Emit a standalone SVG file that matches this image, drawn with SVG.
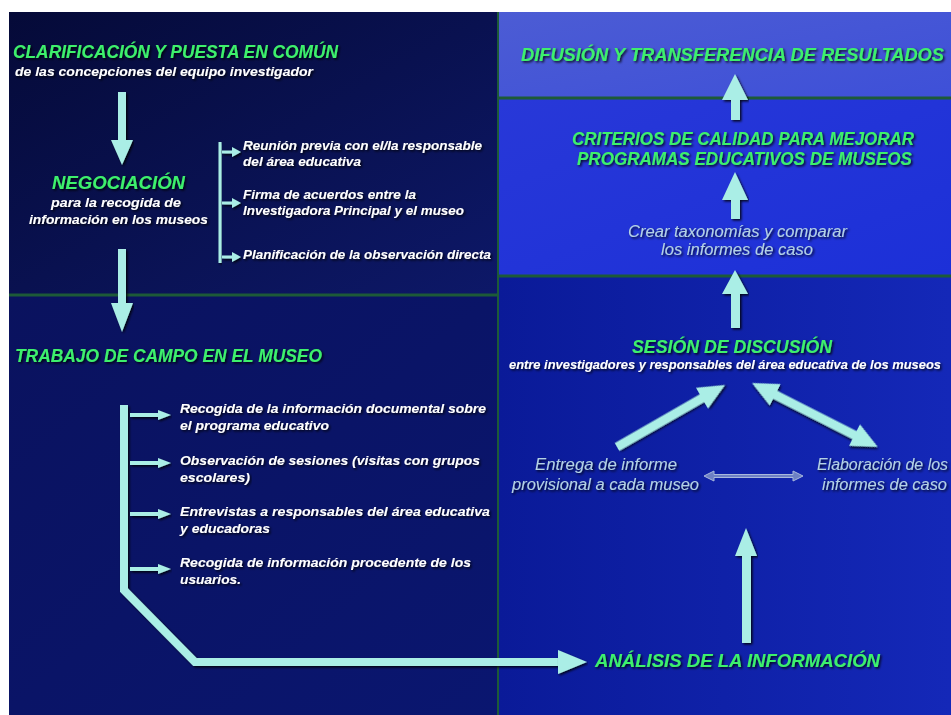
<svg xmlns="http://www.w3.org/2000/svg" width="951" height="715" viewBox="0 0 951 715">
<defs>
<linearGradient id="gLT" x1="0" y1="0" x2="1" y2="1"><stop offset="0" stop-color="#050a38"/><stop offset="1" stop-color="#0d1868"/></linearGradient>
<linearGradient id="gLB" x1="0" y1="0" x2="1" y2="1"><stop offset="0" stop-color="#0a125e"/><stop offset="1" stop-color="#0a1670"/></linearGradient>
<linearGradient id="gRT" x1="0" y1="0" x2="1" y2="1"><stop offset="0" stop-color="#4c5cd4"/><stop offset="1" stop-color="#3e50d8"/></linearGradient>
<linearGradient id="gRM" x1="0" y1="0" x2="1" y2="1"><stop offset="0" stop-color="#2838d8"/><stop offset="1" stop-color="#1c30d8"/></linearGradient>
<linearGradient id="gRB" x1="0" y1="0" x2="1" y2="0"><stop offset="0" stop-color="#0a1a98"/><stop offset="1" stop-color="#1428b8"/></linearGradient>
<filter id="sh" x="-2%" y="-30%" width="104%" height="160%"><feDropShadow dx="1.5" dy="1.5" stdDeviation="1" flood-color="#000" flood-opacity="0.85"/></filter>
</defs>
<style>
.g{font-family:"Liberation Sans",Arial,sans-serif;font-weight:bold;font-style:italic;fill:#3ef06c;filter:url(#sh)}
.w{font-family:"Liberation Sans",Arial,sans-serif;font-weight:bold;font-style:italic;fill:#ffffff;font-size:13.5px;filter:url(#sh)}
.l{font-family:"Liberation Sans",Arial,sans-serif;font-style:italic;fill:#b4d2e4;font-size:16px;filter:url(#sh)}
.a{fill:#aaeee6;filter:url(#sh)}
.sep{stroke:#1d5a38;stroke-width:3}
</style>
<rect width="951" height="715" fill="#ffffff"/>
<g id="panels">
<rect x="9" y="12" width="489" height="283" fill="url(#gLT)"/>
<rect x="9" y="295" width="489" height="420" fill="url(#gLB)"/>
<rect x="498" y="12" width="453" height="86" fill="url(#gRT)"/>
<rect x="498" y="98" width="453" height="178" fill="url(#gRM)"/>
<rect x="498" y="276" width="453" height="439" fill="url(#gRB)"/>
<line class="sep" x1="9" y1="295" x2="498" y2="295"/>
<line class="sep" x1="498" y1="98" x2="951" y2="98"/>
<line class="sep" x1="498" y1="276" x2="951" y2="276"/>
<line x1="498" y1="12" x2="498" y2="715" stroke="#1d5a38" stroke-width="2"/>
</g>
<g id="n-clarificacion">
<text class="g" x="13" y="58" font-size="19" textLength="325" lengthAdjust="spacingAndGlyphs">CLARIFICACIÓN Y PUESTA EN COMÚN</text>
<text class="w" x="15" y="76" font-size="14" textLength="298" lengthAdjust="spacingAndGlyphs">de las concepciones del equipo investigador</text>
</g>
<g id="n-negociacion">
<text class="g" x="118.5" y="189" font-size="19" text-anchor="middle" textLength="133" lengthAdjust="spacingAndGlyphs">NEGOCIACIÓN</text>
<text class="w" x="116" y="207" text-anchor="middle" textLength="130" lengthAdjust="spacingAndGlyphs">para la recogida de</text>
<text class="w" x="118.5" y="224" text-anchor="middle" textLength="179" lengthAdjust="spacingAndGlyphs">información en los museos</text>
</g>
<g id="n-neg-items">
<text class="w" x="243" y="150" textLength="239" lengthAdjust="spacingAndGlyphs">Reunión previa con el/la responsable</text>
<text class="w" x="243" y="166" textLength="118" lengthAdjust="spacingAndGlyphs">del área educativa</text>
<text class="w" x="243" y="199" textLength="173" lengthAdjust="spacingAndGlyphs">Firma de acuerdos entre la</text>
<text class="w" x="243" y="215" textLength="221" lengthAdjust="spacingAndGlyphs">Investigadora Principal y el museo</text>
<text class="w" x="243" y="259" textLength="248" lengthAdjust="spacingAndGlyphs">Planificación de la observación directa</text>
</g>
<g id="n-trabajo">
<text class="g" x="15" y="362" font-size="19" textLength="307" lengthAdjust="spacingAndGlyphs">TRABAJO DE CAMPO EN EL MUSEO</text>
</g>
<g id="n-trabajo-items">
<text class="w" x="180" y="413" textLength="306" lengthAdjust="spacingAndGlyphs">Recogida de la información documental sobre</text>
<text class="w" x="180" y="430" textLength="149" lengthAdjust="spacingAndGlyphs">el programa educativo</text>
<text class="w" x="180" y="465" textLength="300" lengthAdjust="spacingAndGlyphs">Observación de sesiones (visitas con grupos</text>
<text class="w" x="180" y="482" textLength="70" lengthAdjust="spacingAndGlyphs">escolares)</text>
<text class="w" x="180" y="516" textLength="310" lengthAdjust="spacingAndGlyphs">Entrevistas a responsables del área educativa</text>
<text class="w" x="180" y="533" textLength="90" lengthAdjust="spacingAndGlyphs">y educadoras</text>
<text class="w" x="180" y="567" textLength="291" lengthAdjust="spacingAndGlyphs">Recogida de información procedente de los</text>
<text class="w" x="180" y="584" textLength="61" lengthAdjust="spacingAndGlyphs">usuarios.</text>
</g>
<g id="n-analisis">
<text class="g" x="595" y="667" font-size="19" textLength="285" lengthAdjust="spacingAndGlyphs">ANÁLISIS DE LA INFORMACIÓN</text>
</g>
<g id="n-entrega">
<text class="l" x="606" y="470" text-anchor="middle" textLength="142" lengthAdjust="spacingAndGlyphs">Entrega de informe</text>
<text class="l" x="605.5" y="490" text-anchor="middle" textLength="187" lengthAdjust="spacingAndGlyphs">provisional a cada museo</text>
</g>
<g id="n-elaboracion">
<text class="l" x="817" y="470" textLength="131" lengthAdjust="spacingAndGlyphs">Elaboración de los</text>
<text class="l" x="822" y="490" textLength="125" lengthAdjust="spacingAndGlyphs">informes de caso</text>
</g>
<g id="n-sesion">
<text class="g" x="732" y="353" font-size="18" text-anchor="middle" textLength="200" lengthAdjust="spacingAndGlyphs">SESIÓN DE DISCUSIÓN</text>
<text class="w" x="509" y="369" font-size="10.4" textLength="432" lengthAdjust="spacingAndGlyphs">entre investigadores y responsables del área educativa de los museos</text>
</g>
<g id="n-crear">
<text class="l" x="737.5" y="237" text-anchor="middle" textLength="219" lengthAdjust="spacingAndGlyphs">Crear taxonomías y comparar</text>
<text class="l" x="737" y="255" text-anchor="middle" textLength="152" lengthAdjust="spacingAndGlyphs">los informes de caso</text>
</g>
<g id="n-criterios">
<text class="g" x="743" y="145" font-size="18" text-anchor="middle" textLength="342" lengthAdjust="spacingAndGlyphs">CRITERIOS DE CALIDAD PARA MEJORAR</text>
<text class="g" x="744.5" y="165" font-size="18" text-anchor="middle" textLength="335" lengthAdjust="spacingAndGlyphs">PROGRAMAS EDUCATIVOS DE MUSEOS</text>
</g>
<g id="n-difusion">
<text class="g" x="521" y="61" font-size="17.5" textLength="423" lengthAdjust="spacingAndGlyphs">DIFUSIÓN Y TRANSFERENCIA DE RESULTADOS</text>
</g>
<g id="connectors">
<polygon class="a" points="118,92 126,92 126,140 133,140 122,165 111,140 118,140"/>
<polygon class="a" points="118,249 126,249 126,303 133,303 122,332 111,303 118,303"/>
<rect class="a" x="218.5" y="142" width="3" height="121"/>
<polygon class="a" points="222,150.5 232,150.5 232,147 241,152 232,157 232,153.5 222,153.5"/>
<polygon class="a" points="222,201.5 232,201.5 232,198 241,203 232,208 232,204.5 222,204.5"/>
<polygon class="a" points="222,255.5 232,255.5 232,252 241,257 232,262 232,258.5 222,258.5"/>
<path d="M124,405 V590 L195,662 H562" fill="none" stroke="#aaeee6" stroke-width="8" filter="url(#sh)"/>
<polygon class="a" points="558,650 587,662 558,674"/>
<polygon class="a" points="130,413 158,413 158,410 171,415 158,420 158,417 130,417"/>
<polygon class="a" points="130,461 158,461 158,458 171,463 158,468 158,465 130,465"/>
<polygon class="a" points="130,512 158,512 158,509 171,514 158,519 158,516 130,516"/>
<polygon class="a" points="130,567 158,567 158,564 171,569 158,574 158,571 130,571"/>
<polygon class="a" points="731,120 740,120 740,100 748,100 735,74 722,100 731,100"/>
<polygon class="a" points="731,219 740,219 740,200 748,200 735,172 722,200 731,200"/>
<polygon class="a" points="731,328 740,328 740,294 748,294 735,270 722,294 731,294"/>
<polygon class="a" points="742,643 751,643 751,556 757,556 746,528 735,556 742,556"/>
<polygon class="a" transform="translate(617,447) rotate(-29.86)" points="0,-4.5 98,-4.5 98,-12 124.5,0 98,12 98,4.5 0,4.5"/>
<polygon class="a" transform="translate(752,383) rotate(26.93)" points="0,0 26,-12 26,-4.5 115,-4.5 115,-12 141,0 115,12 115,4.5 26,4.5 26,12"/>
<polygon points="704,476 714,471 714,474.5 793,474.5 793,471 803,476 793,481 793,477.5 714,477.5 714,481" fill="#6d80c4" stroke="#a8b8dc" stroke-width="1"/>
</g>
</svg>
